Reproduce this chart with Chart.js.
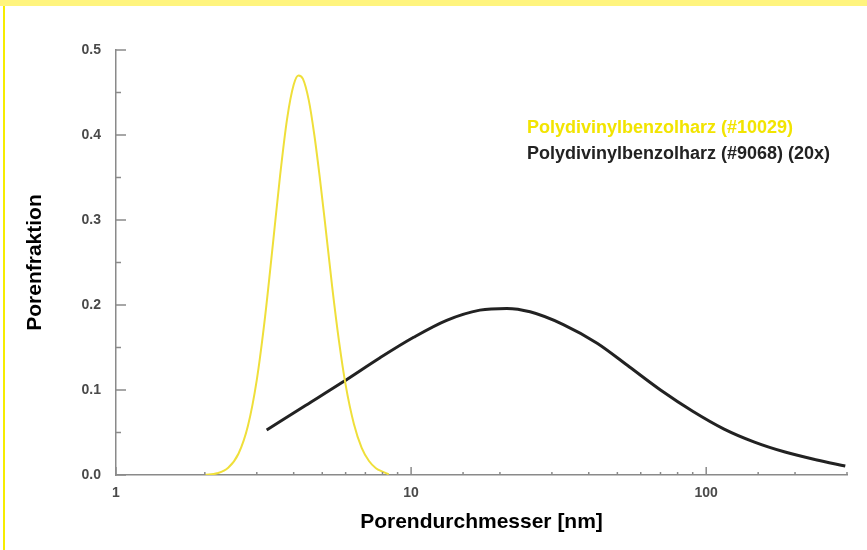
<!DOCTYPE html>
<html>
<head>
<meta charset="utf-8">
<script src="https://cdn.jsdelivr.net/npm/chart.js@4"></script>
<style>
  body { margin: 0; background: #fff; }
  #wrap { position: relative; width: 867px; height: 550px; }
  #topbar { position: absolute; left: 0; top: 0; width: 867px; height: 6px; background: #FFF47E; }
  #leftbar { position: absolute; left: 3px; top: 6px; width: 2px; height: 544px; background: #F6EC00; }
</style>
</head>
<body>
<div id="wrap">
  <canvas id="myChart" width="867" height="550"></canvas>
  <div id="topbar"></div>
  <div id="leftbar"></div>
</div>
<script>
const colorVar = {
    yellow: '#EFDF3A',
    yellowText: '#F2E400',
    black: '#222222',
    axis: '#8a8a8a',
    tickText: '#4a4a4a',
}

// Polydivinylbenzolharz (#10029)
const yellowDiameter = [2.0, 2.2, 2.4, 2.6, 2.8, 3.0, 3.2, 3.4, 3.6, 3.8, 4.0, 4.15, 4.3, 4.5, 4.7, 4.9, 5.1, 5.4, 5.7, 6.0, 6.4, 6.8, 7.2, 7.6, 8.0, 8.4];
const yellowFraction = [0, 0.002, 0.0085, 0.025, 0.058, 0.112, 0.186, 0.271, 0.353, 0.419, 0.459, 0.47, 0.466, 0.441, 0.4, 0.351, 0.299, 0.222, 0.157, 0.106, 0.06, 0.032, 0.0165, 0.008, 0.004, 0.001];

// Polydivinylbenzolharz (#9068) (20x)
const blackDiameter = [3.24, 4.4, 5.85, 7.85, 10.2, 13.2, 17.1, 21.1, 25.3, 32.8, 42.7, 55, 70, 90, 115, 145, 185, 235, 296];
const blackFraction = [0.053, 0.082, 0.109, 0.138, 0.162, 0.182, 0.194, 0.196, 0.192, 0.177, 0.155, 0.127, 0.1, 0.075, 0.054, 0.039, 0.027, 0.018, 0.0106];

const legendLabels = ['Polydivinylbenzolharz (#10029)', 'Polydivinylbenzolharz (#9068) (20x)'];
const yTicks = [0, 0.1, 0.2, 0.3, 0.4, 0.5];

const toPoints = (xs, ys) => xs.map((x, i) => ({ x: x, y: ys[i] }));

const innerTicks = {
    id: 'innerTicks',
    afterDraw(chart) {
        const { ctx, scales: { x, y } } = chart;
        ctx.save();
        ctx.strokeStyle = colorVar.axis;
        ctx.lineWidth = 1.5;
        x.ticks.forEach(t => {
            const px = x.getPixelForValue(t.value);
            const major = Math.abs(Math.log10(t.value) % 1) < 1e-9;
            ctx.beginPath();
            ctx.moveTo(px, y.bottom);
            ctx.lineTo(px, y.bottom - (major ? 8 : 3));
            ctx.stroke();
        });
        for (let v = 0; v <= 0.5001; v += 0.05) {
            const py = y.getPixelForValue(v);
            const major = Math.round(v * 100) % 10 === 0;
            ctx.beginPath();
            ctx.moveTo(x.left, py);
            ctx.lineTo(x.left + (major ? 10 : 5), py);
            ctx.stroke();
        }
        // legend text
        ctx.font = 'bold 18px "Liberation Sans", Arial, sans-serif';
        ctx.textBaseline = 'alphabetic';
        ctx.fillStyle = colorVar.yellowText;
        ctx.fillText(legendLabels[0], 527, 133);
        ctx.fillStyle = colorVar.black;
        ctx.fillText(legendLabels[1], 527, 159);
        ctx.restore();
    }
};

const ctx = document.getElementById('myChart');

new Chart(ctx, {
    type: 'line',
    data: {
        datasets: [{
            label: legendLabels[0],
            data: toPoints(yellowDiameter, yellowFraction),
            borderColor: colorVar.yellow,
            borderWidth: 2,
            pointRadius: 0,
            cubicInterpolationMode: 'monotone',
        }, {
            label: legendLabels[1],
            data: toPoints(blackDiameter, blackFraction),
            borderColor: colorVar.black,
            borderWidth: 3,
            pointRadius: 0,
            cubicInterpolationMode: 'monotone',
        }]
    },
    options: {
        responsive: false,
        animation: false,
        layout: { padding: { top: 50, right: 20, left: 0, bottom: 0 } },
        plugins: { legend: { display: false }, tooltip: { enabled: false } },
        scales: {
            x: {
                type: 'logarithmic',
                min: 1,
                max: 300,
                afterFit: s => { s.height = 75; },
                border: { color: colorVar.axis, width: 1.5 },
                grid: { drawOnChartArea: false, drawTicks: false },
                ticks: {
                    autoSkip: false,
                    maxRotation: 0,
                    padding: 10,
                    color: colorVar.tickText,
                    font: { family: '"Liberation Sans", Arial, sans-serif', size: 14, weight: 'bold' },
                    callback: v => (Math.abs(Math.log10(v) % 1) < 1e-9 ? String(v) : '')
                },
                title: {
                    display: true,
                    text: 'Porendurchmesser [nm]',
                    color: '#000',
                    padding: { top: 0, bottom: 15 },
                    font: { family: '"Liberation Sans", Arial, sans-serif', size: 21, weight: 'bold' }
                }
            },
            y: {
                min: 0,
                max: 0.5,
                afterFit: s => { s.width = 116; },
                afterBuildTicks: s => { s.ticks = yTicks.map(v => ({ value: v })); },
                border: { color: colorVar.axis, width: 1.5 },
                grid: { drawOnChartArea: false, drawTicks: false },
                ticks: {
                    padding: 15,
                    color: colorVar.tickText,
                    font: { family: '"Liberation Sans", Arial, sans-serif', size: 14, weight: 'bold' },
                    callback: v => v.toFixed(1)
                },
                title: {
                    display: true,
                    text: 'Porenfraktion',
                    color: '#000',
                    padding: { top: 23, bottom: 0 },
                    font: { family: '"Liberation Sans", Arial, sans-serif', size: 21, weight: 'bold' }
                }
            }
        }
    },
    plugins: [innerTicks]
});
</script>
</body>
</html>
